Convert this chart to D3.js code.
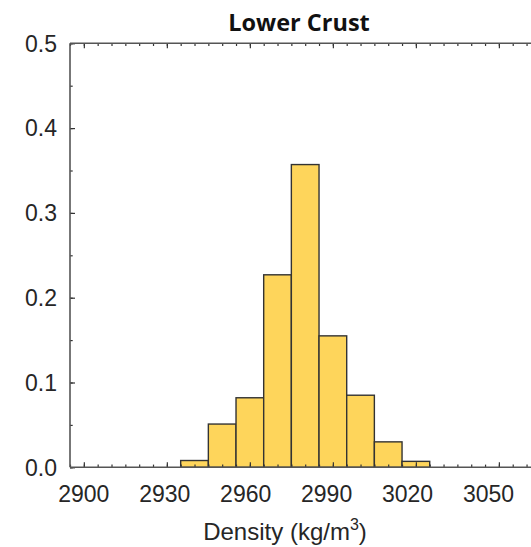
<!doctype html>
<html>
<head>
    <meta charset="UTF-8">
    <title>Lower Crust</title>
    <script src="https://cdn.jsdelivr.net/npm/d3@7/dist/d3.min.js"></script>
    <style>
        body { margin: 0; background: #fff; }
        .svg1 { display: block; }
        .tick-label { font-family: "Liberation Sans", Arial, sans-serif; font-size: 23px; fill: #262626; }
        .axis-label { font-family: "Liberation Sans", Arial, sans-serif; font-size: 24px; fill: #262626; }
        .title { font-family: "Open Sans", sans-serif; font-weight: bold; font-size: 23.5px; fill: #111; }
    </style>
</head>
<body>
    <svg class="svg1" width="531" height="547"></svg>
</body>
<script>
    // histogram bins (left edges, width 10 kg/m3) and probability per bin
    var binStart = [2935, 2945, 2955, 2965, 2975, 2985, 2995, 3005, 3015];
    var binWidth = 10;
    var probs = [0.008, 0.051, 0.082, 0.227, 0.357, 0.155, 0.085, 0.030, 0.007];
    var xTickLabels = [2900, 2930, 2960, 2990, 3020, 3050];
    var yTickLabels = [0, 0.1, 0.2, 0.3, 0.4, 0.5];

    var svg = d3.select(".svg1");
    var plotLeft = 70, plotTop = 43.3, plotBottom = 467.3;

    var x = d3.scaleLinear().domain([2895, 3065]).range([plotLeft, plotLeft + 170 * 2.767]);
    var y = d3.scaleLinear().domain([0, 0.5]).range([plotBottom, plotTop]);

    // bars
    svg.append("g").attr("class", "bars")
        .selectAll("rect").data(probs)
        .enter().append("rect")
        .attr("x", function (d, i) { return x(binStart[i]); })
        .attr("width", function (d, i) { return x(binStart[i] + binWidth) - x(binStart[i]); })
        .attr("y", function (d) { return y(d); })
        .attr("height", function (d) { return y(0) - y(d); })
        .attr("fill", "#fed55b")
        .attr("stroke", "#333")
        .attr("stroke-width", 1.4);

    var minorX = d3.range(2895, 3070, 5);
    var minorY = d3.range(0, 0.51, 0.05);

    function styleAxis(g) {
        g.select(".domain").remove();
        g.selectAll(".tick line").attr("stroke", "#333").attr("stroke-width", 1.2);
        g.selectAll(".tick text").remove();
    }

    // minor + major ticks, pointing inward
    svg.append("g").attr("transform", "translate(0," + plotBottom + ")")
        .call(d3.axisBottom(x).tickValues(minorX).tickSize(-2.7)).call(styleAxis);
    svg.append("g").attr("transform", "translate(0," + plotBottom + ")")
        .call(d3.axisBottom(x).tickValues(xTickLabels).tickSize(-5)).call(styleAxis);
    svg.append("g").attr("transform", "translate(0," + plotTop + ")")
        .call(d3.axisTop(x).tickValues(minorX).tickSize(-2.7)).call(styleAxis);
    svg.append("g").attr("transform", "translate(0," + plotTop + ")")
        .call(d3.axisTop(x).tickValues(xTickLabels).tickSize(-5)).call(styleAxis);
    svg.append("g").attr("transform", "translate(" + plotLeft + ",0)")
        .call(d3.axisLeft(y).tickValues(minorY).tickSize(-2.7)).call(styleAxis);
    svg.append("g").attr("transform", "translate(" + plotLeft + ",0)")
        .call(d3.axisLeft(y).tickValues(yTickLabels).tickSize(-5)).call(styleAxis);

    // box lines
    var frame = svg.append("g").attr("stroke", "#555").attr("stroke-width", 1.6).attr("fill", "none");
    frame.append("line").attr("x1", plotLeft).attr("x2", x.range()[1]).attr("y1", plotBottom).attr("y2", plotBottom);
    frame.append("line").attr("x1", plotLeft).attr("x2", x.range()[1]).attr("y1", plotTop).attr("y2", plotTop);
    frame.append("line").attr("x1", plotLeft).attr("x2", plotLeft).attr("y1", plotTop).attr("y2", plotBottom);

    // tick labels
    svg.append("g").selectAll("text").data(xTickLabels)
        .enter().append("text").attr("class", "tick-label")
        .attr("x", function (d) { return x(d) - (x(d) - 83) * 0.025; })
        .attr("y", plotBottom + 35)
        .attr("text-anchor", "middle")
        .text(function (d) { return d; });

    svg.append("g").selectAll("text").data(yTickLabels)
        .enter().append("text").attr("class", "tick-label")
        .attr("x", plotLeft - 13)
        .attr("y", function (d) { return y(d); })
        .attr("dy", "0.36em")
        .attr("text-anchor", "end")
        .text(function (d) { return d3.format(".1f")(d); });

    // axis label
    var xl = svg.append("text").attr("class", "axis-label")
        .attr("x", 285).attr("y", 540).attr("text-anchor", "middle");
    xl.append("tspan").text("Density (kg/m");
    xl.append("tspan").attr("dy", -10).attr("font-size", 16).text("3");
    xl.append("tspan").attr("dy", 10).text(")");

    svg.append("text").attr("class", "title")
        .attr("x", 299).attr("y", 31).attr("text-anchor", "middle")
        .text("Lower Crust");
</script>
</html>
